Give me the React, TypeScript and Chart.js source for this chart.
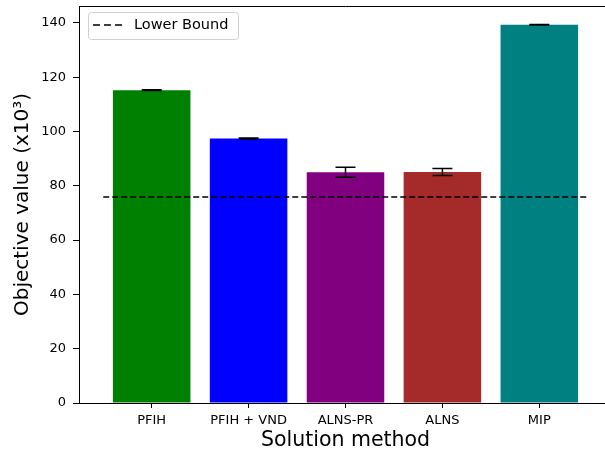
import React, { useEffect, useRef } from "react";
import { Chart, registerables } from "chart.js";

Chart.register(...registerables);

const categories = ["PFIH", "PFIH + VND", "ALNS-PR", "ALNS", "MIP"];
const meanValues = [115.2, 97.4, 85.0, 85.1, 139.3];
const errorValues = [0.15, 0.15, 1.85, 1.3, 0.1];
const barColors = ["#008000", "#0000ff", "#800080", "#a52a2a", "#008080"];
const lowerBound = 75.9;
const yTicks = [0, 20, 40, 60, 80, 100, 120, 140];
const FONT = "'DejaVu Sans', sans-serif";

const extrasPlugin = {
  id: "extras",
  afterDatasetsDraw(chart: any) {
    const ctx = chart.ctx;
    const xs = chart.scales.x;
    const ys = chart.scales.y;
    ctx.save();
    // error bars
    ctx.strokeStyle = "#000";
    ctx.lineWidth = 1.5;
    meanValues.forEach((v, i) => {
      const x = xs.getPixelForValue(i);
      const yt = ys.getPixelForValue(v + errorValues[i]);
      const yb = ys.getPixelForValue(v - errorValues[i]);
      ctx.beginPath();
      ctx.moveTo(x, yt);
      ctx.lineTo(x, yb);
      ctx.moveTo(x - 10, yt);
      ctx.lineTo(x + 10, yt);
      ctx.moveTo(x - 10, yb);
      ctx.lineTo(x + 10, yb);
      ctx.stroke();
    });
    // top spine
    const a = chart.chartArea;
    ctx.strokeStyle = "#000";
    ctx.lineWidth = 1;
    ctx.beginPath();
    ctx.moveTo(a.left, a.top + 0.5);
    ctx.lineTo(a.right, a.top + 0.5);
    ctx.stroke();
    // legend
    const lx = 88.5, ly = 12.5, lw = 150, lh = 27, r = 3;
    ctx.fillStyle = "rgba(255,255,255,0.8)";
    ctx.strokeStyle = "#d0d0d0";
    ctx.lineWidth = 1;
    ctx.beginPath();
    ctx.roundRect(lx, ly, lw, lh, r);
    ctx.fill();
    ctx.stroke();
    ctx.strokeStyle = "#000";
    ctx.lineWidth = 1.5;
    ctx.setLineDash([7, 4]);
    ctx.beginPath();
    ctx.moveTo(93, 25);
    ctx.lineTo(122, 25);
    ctx.stroke();
    ctx.setLineDash([]);
    ctx.fillStyle = "#000";
    ctx.font = `14.5px ${FONT}`;
    ctx.textBaseline = "middle";
    ctx.textAlign = "left";
    ctx.fillText("Lower Bound", 134, 25.5);
    ctx.restore();
  },
};

export default function App() {
  const ref = useRef<HTMLCanvasElement | null>(null);
  useEffect(() => {
    if (!ref.current) return;
    Chart.defaults.font.family = FONT;
    Chart.defaults.color = "#000";
    const chart = new Chart(ref.current, {
      type: "bar",
      data: {
        datasets: [
          {
            type: "line",
            label: "Lower Bound",
            data: [
              { x: -0.5, y: lowerBound },
              { x: 4.5, y: lowerBound },
            ],
            borderColor: "#000",
            borderWidth: 1.5,
            borderDash: [6, 3],
            pointRadius: 0,
            order: 0,
          } as any,
          {
            type: "bar",
            label: "Objective",
            data: meanValues.map((v, i) => ({ x: i, y: v })),
            backgroundColor: barColors,
            borderWidth: 0,
            barPercentage: 0.8,
            categoryPercentage: 1,
            order: 1,
          } as any,
        ],
      },
      options: {
        animation: false,
        responsive: false,
        devicePixelRatio: 1,
        layout: { padding: { top: 6, right: 8, left: 0, bottom: 0 } },
        plugins: { legend: { display: false }, tooltip: { enabled: false } },
        scales: {
          x: {
            type: "linear",
            min: -0.75,
            max: 4.75,
            offset: false,
            afterBuildTicks: (s: any) => {
              s.ticks = categories.map((_, i) => ({ value: i }));
            },
            afterFit: (s: any) => {
              s.height = 53;
              s.paddingLeft = 0;
              s.paddingRight = 0;
              s.paddingTop = 0;
              s.paddingBottom = 0;
            },
            ticks: {
              autoSkip: false,
              maxRotation: 0,
              padding: 5,
              font: { size: 13 },
              color: "#000",
              callback: (v: any) => categories[v as number] ?? "",
            },
            grid: { offset: false, drawOnChartArea: false, drawTicks: true, tickLength: 5, color: "#000", lineWidth: 1 },
            border: { display: true, color: "#000", width: 1 },
            title: {
              display: true,
              text: "Solution method",
              font: { size: 20.5 },
              color: "#000",
              padding: { top: 0, bottom: 3 },
            },
          },
          y: {
            type: "linear",
            min: 0,
            max: 146.2,
            afterBuildTicks: (s: any) => {
              s.ticks = yTicks.map((v) => ({ value: v }));
            },
            afterFit: (s: any) => {
              s.width = 79;
              s.paddingLeft = 0;
              s.paddingRight = 0;
              s.paddingTop = 0;
              s.paddingBottom = 0;
            },
            ticks: { padding: 7, font: { size: 13 }, color: "#000" },
            grid: { drawOnChartArea: false, drawTicks: true, tickLength: 6, color: "#000", lineWidth: 1 },
            border: { display: true, color: "#000", width: 1 },
            title: {
              display: true,
              text: "Objective value (x10³)",
              font: { size: 20 },
              color: "#000",
              padding: { top: 11, bottom: 0 },
            },
          },
        },
      } as any,
      plugins: [extrasPlugin],
    });
    return () => chart.destroy();
  }, []);
  return (
    <div style={{ position: "absolute", left: 0, top: 0, width: 605, height: 456, overflow: "hidden", background: "#fff" }}>
      <canvas ref={ref} width={620} height={456} style={{ display: "block", width: 620, height: 456 }} />
    </div>
  );
}
